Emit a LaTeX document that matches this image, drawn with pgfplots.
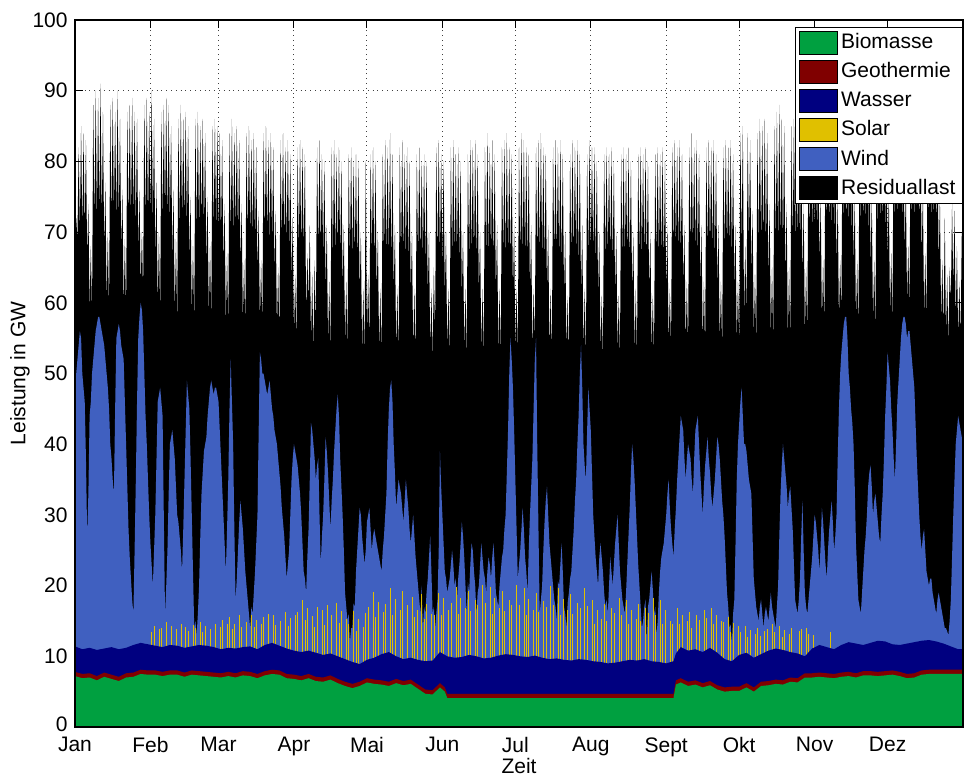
\documentclass[border=0pt]{standalone}
\usepackage{fontspec}
\setmainfont{Liberation Sans}
\usepackage{pgfplots}
\usepackage{pgfplotstable}
\pgfplotsset{compat=1.18}
\definecolor{biocol}{RGB}{0,160,64}
\definecolor{geocol}{RGB}{128,0,0}
\definecolor{watercol}{RGB}{0,0,128}
\definecolor{solarcol}{RGB}{224,192,0}
\definecolor{windcol}{RGB}{64,96,192}

% t = day of year; L = load (top of residual load); W = top of wind; S = top of solar at noon (0 = not shown)
\pgfplotstableread[row sep=\\]{t L W S\\
0 58 49 0\\ 0.5 72 50 0\\ 1 69 52 0\\ 1.5 82 54 0\\ 2 70 56 0\\ 2.5 85 55 0\\ 3 70 50 0\\ 3.5 84 48 0\\ 4 70 46 0\\ 4.5 83 38 0\\ 5 66 27 0\\ 5.5 74 33 0\\ 6 59 44 0\\ 6.5 68 46 0\\
7 58 50 0\\ 7.5 88 52 0\\ 8 71 54 0\\ 8.5 90 56 0\\ 9 71 57 0\\ 9.5 89 58 0\\ 10 72 58 0\\ 10.5 91 57 0\\ 11 71 56 0\\ 11.5 87 55 0\\ 12 67 54 0\\ 12.5 77 52 0\\ 13 60 50 0\\ 13.5 70 48 0\\
14 58 45 0\\ 14.5 88 40 0\\ 15 71 38 0\\ 15.5 89 35 0\\ 16 72 33 0\\ 16.5 87 45 0\\ 17 71 55 0\\ 17.5 90 56 0\\ 18 71 57 0\\ 18.5 86 56 0\\ 19 67 54 0\\ 19.5 76 53 0\\ 20 59 52 0\\ 20.5 69 46 0\\
21 58 40 0\\ 21.5 87 34 0\\ 22 71 28 0\\ 22.5 88 24 0\\ 23 71 21 0\\ 23.5 89 18 0\\ 24 72 16 0\\ 24.5 87 25 0\\ 25 70 35 0\\ 25.5 86 46 0\\ 26 67 55 0\\ 26.5 76 58 0\\ 27 62 60 0\\ 27.5 70 59 0\\
28 61 56 0\\ 28.5 88 50 0\\ 29 71 44 0\\ 29.5 89 40 0\\ 30 71 35 0\\ 30.5 87 30 0\\ 31 72 26 0\\ 31.5 90 23 13.5\\ 32 71 20 0\\ 32.5 86 25 14.3\\ 33 66 30 0\\ 33.5 77 38 0\\ 34 59 46 0\\ 34.5 70 47 13.8\\
35 58 48 0\\ 35.5 87 46 14.0\\ 36 71 44 0\\ 36.5 88 30 0\\ 37 72 16 0\\ 37.5 89 20 14.8\\ 38 71 25 0\\ 38.5 88 33 0\\ 39 71 40 0\\ 39.5 85 41 14.3\\ 40 66 42 0\\ 40.5 76 40 0\\ 41 58 38 0\\ 41.5 69 34 13.8\\
42 57 30 0\\ 42.5 86 29 0\\ 43 70 27 0\\ 43.5 88 25 14.6\\ 44 71 22 0\\ 44.5 86 28 0\\ 45 71 35 0\\ 45.5 87 42 14.1\\ 46 70 49 0\\ 46.5 85 47 13.6\\ 47 66 45 0\\ 47.5 75 38 0\\ 48 58 30 0\\ 48.5 68 22 14.4\\
49 57 14 0\\ 49.5 86 15 14.0\\ 50 70 13 0\\ 50.5 87 16 0\\ 51 70 20 0\\ 51.5 85 27 14.8\\ 52 71 33 0\\ 52.5 86 36 13.5\\ 53 70 39 0\\ 53.5 84 40 14.3\\ 54 65 41 0\\ 54.5 75 44 0\\ 55 58 46 0\\ 55.5 68 48 13.8\\
56 57 49 0\\ 56.5 85 48 0\\ 57 70 47 0\\ 57.5 86 48 14.6\\ 58 70 48 0\\ 58.5 85 47 0\\ 59 69 46 0\\ 59.5 84 42 14.1\\ 60 69 38 0\\ 60.5 83 34 15.2\\ 61 65 30 0\\ 61.5 74 26 0\\ 62 57 22 0\\ 62.5 67 28 14.5\\
63 56 35 0\\ 63.5 84 45 15.5\\ 64 69 52 0\\ 64.5 86 46 13.9\\ 65 69 40 0\\ 65.5 84 28 14.6\\ 66 70 18 0\\ 66.5 85 21 0\\ 67 69 25 0\\ 67.5 83 29 15.9\\ 68 65 32 0\\ 68.5 74 30 14.2\\ 69 57 28 0\\ 69.5 66 25 0\\
70 56 22 0\\ 70.5 84 20 14.8\\ 71 69 18 0\\ 71.5 85 16 0\\ 72 69 14 0\\ 72.5 83 17 15.9\\ 73 69 16 0\\ 73.5 84 19 14.1\\ 74 68 22 0\\ 74.5 82 26 15.2\\ 75 64 30 0\\ 75.5 73 42 0\\ 76 57 53 0\\ 76.5 66 52 14.5\\
77 56 50 0\\ 77.5 84 50 15.5\\ 78 69 49 0\\ 78.5 85 48 0\\ 79 69 47 0\\ 79.5 83 48 16.0\\ 80 68 49 0\\ 80.5 84 47 0\\ 81 68 45 0\\ 81.5 82 44 15.9\\ 82 64 42 0\\ 82.5 73 41 14.4\\ 83 56 40 0\\ 83.5 65 38 0\\
84 55 36 0\\ 84.5 83 34 15.0\\ 85 68 31 0\\ 85.5 84 29 0\\ 86 68 27 0\\ 86.5 82 24 16.2\\ 87 68 21 0\\ 87.5 83 23 14.3\\ 88 67 25 0\\ 88.5 81 30 15.4\\ 89 63 35 0\\ 89.5 72 38 0\\ 90 55 40 0\\ 90.5 64 39 15.8\\
91 54 38 0\\ 91.5 82 37 16.2\\ 92 67 35 0\\ 92.5 83 33 0\\ 93 67 30 0\\ 93.5 82 26 17.9\\ 94 67 22 0\\ 94.5 81 21 15.1\\ 95 58 19 0\\ 95.5 67 24 16.8\\ 96 60 28 0\\ 96.5 71 35 0\\ 97 54 43 0\\ 97.5 64 42 15.7\\
98 53 40 0\\ 98.5 66 38 14.2\\ 99 56 35 0\\ 99.5 82 37 17.0\\ 100 67 38 0\\ 100.5 83 30 0\\ 101 67 23 0\\ 101.5 81 27 16.5\\ 102 66 30 0\\ 102.5 80 35 14.4\\ 103 62 41 0\\ 103.5 71 39 17.2\\ 104 54 36 0\\ 104.5 63 32 0\\
105 53 28 0\\ 105.5 82 32 15.8\\ 106 66 35 0\\ 106.5 83 39 0\\ 107 66 42 0\\ 107.5 81 45 17.5\\ 108 67 47 0\\ 108.5 82 44 14.7\\ 109 66 38 0\\ 109.5 80 34 16.4\\ 110 62 30 0\\ 110.5 71 25 0\\ 111 54 19 0\\ 111.5 63 17 15.3\\
112 53 15 0\\ 112.5 81 16 14.5\\ 113 66 12 0\\ 113.5 82 14 0\\ 114 66 14 0\\ 114.5 80 17.5 16.4\\ 115 66 17 0\\ 115.5 81 22 13.6\\ 116 65 25 0\\ 116.5 80 28 15.3\\ 117 61 31 0\\ 117.5 70 30 0\\ 118 53 27 0\\ 118.5 62 25 14.2\\
119 52 23 0\\ 119.5 80 25 16.1\\ 120 55 29 0\\ 120.5 64 30 17.0\\ 121 54 31 0\\ 121.5 81 28 0\\ 122 66 25 0\\ 122.5 82 27 19.1\\ 123 65 28 0\\ 123.5 80 27 15.6\\ 124 61 26 0\\ 124.5 70 25 17.7\\ 125 53 24 0\\ 125.5 62 23 0\\
126 52 22 0\\ 126.5 81 25 16.3\\ 127 66 27 0\\ 127.5 83 30 17.4\\ 128 66 33 0\\ 128.5 82 40 0\\ 129 66 45 0\\ 129.5 84 48 19.6\\ 130 65 49 0\\ 130.5 81 46 15.9\\ 131 61 40 0\\ 131.5 71 36 18.1\\ 132 53 31 0\\ 132.5 62 33 0\\
133 52 35 0\\ 133.5 82 34 16.6\\ 134 66 33 0\\ 134.5 83 31 19.3\\ 135 66 29 0\\ 135.5 81 32 0\\ 136 66 35 0\\ 136.5 82 33 17.3\\ 137 65 31 0\\ 137.5 80 28 0\\ 138 61 26 0\\ 138.5 70 28 18.4\\ 139 53 30 0\\ 139.5 62 27 15.5\\
140 52 24 0\\ 140.5 81 22 16.6\\ 141 66 20 0\\ 141.5 82 18 0\\ 142 66 16 0\\ 142.5 80 20 18.8\\ 143 66 14 0\\ 143.5 81 17 15.3\\ 144 65 16 0\\ 144.5 80 19 17.4\\ 145 61 21 0\\ 145.5 70 24 0\\ 146 53 27 0\\ 146.5 62 22 16.0\\
147 52 16 0\\ 147.5 65 17 15.9\\ 148 55 14 0\\ 148.5 82 16 0\\ 149 66 18 0\\ 149.5 83 25 19.0\\ 150 66 39 0\\ 150.5 81 34 15.8\\ 151 65 30 0\\ 151.5 80 26 18.2\\ 152 61 22 0\\ 152.5 70 21 0\\ 153 53 19 0\\ 153.5 62 20 16.6\\
154 52 21 0\\ 154.5 82 23 17.5\\ 155 66 25 0\\ 155.5 83 23 0\\ 156 66 20 0\\ 156.5 81 21 19.8\\ 157 66 18 0\\ 157.5 82 21 16.0\\ 158 65 23 0\\ 158.5 80 26 18.3\\ 159 61 29 0\\ 159.5 70 27 0\\ 160 53 24 0\\ 160.5 62 20 16.8\\
161 52 16 0\\ 161.5 81 20.5 19.3\\ 162 66 19 0\\ 162.5 83 23 16.4\\ 163 66 26 0\\ 163.5 82 25 0\\ 164 66 22 0\\ 164.5 83 20 18.0\\ 165 65 16 0\\ 165.5 81 19 17.2\\ 166 61 20 0\\ 166.5 70 23 0\\ 167 53 26 0\\ 167.5 62 24 20.1\\
168 52 22 0\\ 168.5 82 21 17.5\\ 169 66 19 0\\ 169.5 84 22 0\\ 170 66 24 0\\ 170.5 82 23 19.8\\ 171 66 21 0\\ 171.5 83 24 16.0\\ 172 65 26 0\\ 172.5 81 23 18.3\\ 173 61 19 0\\ 173.5 71 18 0\\ 174 53 17 0\\ 174.5 62 20 16.8\\
175 52 22 0\\ 175.5 82 24 19.3\\ 176 66 25 0\\ 176.5 83 28 16.4\\ 177 66 30 0\\ 177.5 84 36 0\\ 178 66 42 0\\ 178.5 82 50 18.0\\ 179 65 55 0\\ 179.5 81 52 17.2\\ 180 61 48 0\\ 180.5 71 42 0\\ 181 53 35 0\\ 181.5 62 28 20.1\\
182 52 21 0\\ 182.5 82 23 17.3\\ 183 66 25 0\\ 183.5 84 28 0\\ 184 66 31 0\\ 184.5 83 28 19.6\\ 185 66 24 0\\ 185.5 82 22 15.8\\ 186 65 19 0\\ 186.5 81 25 18.1\\ 187 61 30 0\\ 187.5 71 34 0\\ 188 53 38 0\\ 188.5 62 45 16.6\\
189 54 52 0\\ 189.5 82 55 19.0\\ 190 66 40 0\\ 190.5 83 28 16.2\\ 191 66 16 0\\ 191.5 84 18 0\\ 192 66 20 0\\ 192.5 82 25 17.8\\ 193 65 29 0\\ 193.5 81 32 17.0\\ 194 61 34 0\\ 194.5 71 30 0\\ 195 53 26 0\\ 195.5 62 24 19.9\\
196 52 22 0\\ 196.5 82 20 17.3\\ 197 66 18 0\\ 197.5 83 17 0\\ 198 66 15 0\\ 198.5 82 20.6 19.6\\ 199 66 20 0\\ 199.5 83 23 15.8\\ 200 65 26 0\\ 200.5 81 22 18.1\\ 201 61 17 0\\ 201.5 70 16 0\\ 202 53 14 0\\ 202.5 61 17.6 16.6\\
203 52 19 0\\ 203.5 81 21 18.8\\ 204 66 22 0\\ 204.5 83 25 16.0\\ 205 66 28 0\\ 205.5 82 32 0\\ 206 66 35 0\\ 206.5 83 40 17.6\\ 207 65 44 0\\ 207.5 81 50 16.8\\ 208 61 54 0\\ 208.5 71 48 0\\ 209 53 40 0\\ 209.5 62 37 19.7\\
210 52 35 0\\ 210.5 81 42 17.1\\ 211 66 48 0\\ 211.5 83 45 0\\ 212 66 42 0\\ 212.5 82 36 17.9\\ 213 66 30 0\\ 213.5 82 27 14.6\\ 214 65 24 0\\ 214.5 80 22 16.6\\ 215 61 20 0\\ 215.5 70 24 0\\ 216 53 26 0\\ 216.5 61 24 15.3\\
217 52 22 0\\ 217.5 81 19 17.4\\ 218 66 17 0\\ 218.5 82 18 15.0\\ 219 66 16 0\\ 219.5 81 20 0\\ 220 66 24 0\\ 220.5 82 22 16.8\\ 221 65 20 0\\ 221.5 80 23 16.1\\ 222 61 26 0\\ 222.5 70 28 0\\ 223 53 30 0\\ 223.5 61 26 18.2\\
224 52 22 0\\ 224.5 81 20 15.9\\ 225 66 18 0\\ 225.5 82 17 0\\ 226 66 16 0\\ 226.5 81 19 17.9\\ 227 66 23 0\\ 227.5 82 27 14.6\\ 228 65 31 0\\ 228.5 80 36 16.6\\ 229 61 40 0\\ 229.5 70 38 0\\ 230 53 35 0\\ 230.5 62 31 15.3\\
231 52 27 0\\ 231.5 81 23 17.4\\ 232 66 20 0\\ 232.5 82 17 15.0\\ 233 66 14 0\\ 233.5 81 15 0\\ 234 66 17 0\\ 234.5 82 18 16.8\\ 235 65 12 0\\ 235.5 80 17 16.1\\ 236 61 18 0\\ 236.5 70 20 0\\ 237 53 22 0\\ 237.5 61 19.5 18.2\\
238 52 16 0\\ 238.5 81 17 15.9\\ 239 66 13 0\\ 239.5 82 15 0\\ 240 66 19 0\\ 240.5 81 22 17.9\\ 241 66 24 0\\ 241.5 82 25 14.6\\ 242 65 26 0\\ 242.5 80 28 16.6\\ 243 61 30 0\\ 243.5 71 33 0\\ 244 54 35 0\\ 244.5 62 31 15.0\\
245 53 28 0\\ 245.5 82 26 14.6\\ 246 67 24 0\\ 246.5 83 28 0\\ 247 67 31 0\\ 247.5 82 35 16.8\\ 248 67 38 0\\ 248.5 83 41 14.5\\ 249 66 44 0\\ 249.5 81 43 15.9\\ 250 62 42 0\\ 250.5 71 38 0\\ 251 54 35 0\\ 251.5 63 38 15.0\\
252 53 40 0\\ 252.5 82 39 16.3\\ 253 67 38 0\\ 253.5 84 35 14.0\\ 254 67 33 0\\ 254.5 82 38 0\\ 255 67 42 0\\ 255.5 83 43 15.8\\ 256 66 44 0\\ 256.5 81 40 15.1\\ 257 62 36 0\\ 257.5 71 33 0\\ 258 54 30 0\\ 258.5 63 34 16.5\\
259 53 37 0\\ 259.5 82 39 15.4\\ 260 67 41 0\\ 260.5 83 38 0\\ 261 67 36 0\\ 261.5 82 33 16.8\\ 262 67 31 0\\ 262.5 83 33 14.5\\ 263 66 35 0\\ 263.5 81 38 15.9\\ 264 62 41 0\\ 264.5 71 40 0\\ 265 54 38 0\\ 265.5 63 35 15.0\\
266 53 32 0\\ 266.5 82 30 14.9\\ 267 67 27 0\\ 267.5 83 23 0\\ 268 67 19 0\\ 268.5 82 17 15.6\\ 269 67 14 0\\ 269.5 83 14.5 13.4\\ 270 66 12 0\\ 270.5 81 16 14.7\\ 271 62 18 0\\ 271.5 71 26 0\\ 272 54 35 0\\ 272.5 63 40 14.3\\
273 54 43 0\\ 273.5 84 46 13.4\\ 274 68 48 0\\ 274.5 85 44 0\\ 275 58 40 0\\ 275.5 68 40 14.3\\ 276 58 39 0\\ 276.5 84 37 12.8\\ 277 68 35 0\\ 277.5 83 34 13.7\\ 278 64 33 0\\ 278.5 73 27 0\\ 279 55 21 0\\ 279.5 64 19 13.1\\
280 54 17 0\\ 280.5 84 16 14.0\\ 281 68 15 0\\ 281.5 86 17 12.9\\ 282 68 18 0\\ 282.5 85 16 0\\ 283 68 14 0\\ 283.5 86 16 13.6\\ 284 67 17 0\\ 284.5 84 16 13.9\\ 285 63 15 0\\ 285.5 74 17 0\\ 286 55 19 0\\ 286.5 65 17 14.5\\
287 54 16 0\\ 287.5 85 15 13.4\\ 288 68 14 0\\ 288.5 87 17 0\\ 289 68 20 0\\ 289.5 88 27 14.3\\ 290 68 33 0\\ 290.5 86 37 12.8\\ 291 67 40 0\\ 291.5 85 38 13.7\\ 292 63 36 0\\ 292.5 74 34 0\\ 293 55 31 0\\ 293.5 65 33 13.1\\
294 54 34 0\\ 294.5 85 31 14.0\\ 295 68 28 0\\ 295.5 86 23 0\\ 296 68 18 0\\ 296.5 85 17 0\\ 297 68 16 0\\ 297.5 87 18 13.6\\ 298 67 21 0\\ 298.5 84 27 13.9\\ 299 63 32 0\\ 299.5 74 25 0\\ 300 55 19 0\\ 300.5 65 17 14.0\\
301 55 16 0\\ 301.5 85 18 13.2\\ 302 69 20 0\\ 302.5 86 22 0\\ 303 69 24 0\\ 303.5 85 27 13.0\\ 304 70 30 0\\ 304.5 86 29 0\\ 305 69 27 0\\ 305.5 85 25 0\\ 306 65 22 0\\ 306.5 75 26 0\\ 307 57 31 0\\ 307.5 66 29 0\\
308 56 26 0\\ 308.5 86 23 0\\ 309 70 21 0\\ 309.5 87 25 0\\ 310 70 28 0\\ 310.5 85 30 13.5\\ 311 70 32 0\\ 311.5 86 29 0\\ 312 69 25 0\\ 312.5 84 27 0\\ 313 65 30 0\\ 313.5 75 38 0\\ 314 57 45 0\\ 314.5 66 50 0\\
315 58 53 0\\ 315.5 86 55 0\\ 316 70 57 0\\ 316.5 87 58 0\\ 317 70 58 0\\ 317.5 86 55 0\\ 318 70 50 0\\ 318.5 87 48 0\\ 319 69 45 0\\ 319.5 85 43 0\\ 320 65 40 0\\ 320.5 75 34 0\\ 321 57 26 0\\ 321.5 66 22 0\\
322 56 18 0\\ 322.5 86 17 0\\ 323 70 16 0\\ 323.5 87 19 0\\ 324 70 22 0\\ 324.5 86 25 0\\ 325 70 27 0\\ 325.5 87 30 0\\ 326 69 34 0\\ 326.5 85 36 0\\ 327 65 37 0\\ 327.5 75 34 0\\ 328 57 30 0\\ 328.5 66 32 0\\
329 56 33 0\\ 329.5 86 31 0\\ 330 70 29 0\\ 330.5 87 27 0\\ 331 70 26 0\\ 331.5 86 30 0\\ 332 70 33 0\\ 332.5 87 38 0\\ 333 69 44 0\\ 333.5 86 48 0\\ 334 66 53 0\\ 334.5 76 51 0\\ 335 58 49 0\\ 335.5 67 45 0\\
336 57 42 0\\ 336.5 87 38 0\\ 337 71 35 0\\ 337.5 88 40 0\\ 338 71 46 0\\ 338.5 87 49 0\\ 339 71 52 0\\ 339.5 88 55 0\\ 340 70 57 0\\ 340.5 86 58 0\\ 341 67 58 0\\ 341.5 77 57 0\\ 342 60 55 0\\ 342.5 68 56 0\\
343 59 56 0\\ 343.5 87 54 0\\ 344 71 52 0\\ 344.5 88 50 0\\ 345 71 48 0\\ 345.5 87 43 0\\ 346 71 38 0\\ 346.5 88 34 0\\ 347 70 30 0\\ 347.5 86 27 0\\ 348 66 25 0\\ 348.5 76 27 0\\ 349 58 28 0\\ 349.5 67 25 0\\
350 57 22 0\\ 350.5 86 21 0\\ 351 71 20 0\\ 351.5 87 21 0\\ 352 71 21 0\\ 352.5 86 19 0\\ 353 71 18 0\\ 353.5 86 17 0\\ 354 70 16 0\\ 354.5 84 18 0\\ 355 65 19 0\\ 355.5 75 18 0\\ 356 57 17 0\\ 356.5 66 16 0\\
357 56 15 0\\ 357.5 72 14 0\\ 358 55 14 0\\ 358.5 64 13.5 0\\ 359 54 13 0\\ 359.5 65 15 0\\ 360 60 18 0\\ 360.5 74 24 0\\ 361 62 30 0\\ 361.5 73 35 0\\ 362 57 40 0\\ 362.5 68 42 0\\ 363 55 44 0\\ 363.5 63 43 0\\
364 55 42 0\\ 364.5 70 41 0\\ 365 57 40 0\\
}\hourly

% t = day; H = top of water; G = top of geothermal; B = top of biomass
\pgfplotstableread{
t H G B
0 11.4 7.8 7.2
3 11.0 7.5 6.9
6 11.2 7.6 7.0
9 10.9 7.2 6.6
12 11.1 7.7 7.1
15 11.3 7.4 6.8
18 11.0 7.1 6.5
21 11.2 7.6 7.0
24 11.6 7.7 7.1
27 11.9 8.1 7.5
30 11.7 8.0 7.4
33 11.5 8.0 7.4
36 11.3 7.8 7.2
39 11.6 8.0 7.4
42 11.5 8.0 7.4
45 11.2 7.7 7.1
48 11.4 8.0 7.4
51 11.6 7.9 7.3
54 11.5 7.8 7.2
57 11.3 7.7 7.1
60 11.0 7.6 7.0
63 11.2 7.8 7.2
66 11.1 7.6 7.0
69 11.3 7.9 7.3
72 11.4 7.8 7.2
75 11.0 7.5 6.9
78 11.6 7.9 7.3
81 11.9 8.1 7.5
84 11.5 8.0 7.4
87 11.1 7.5 6.9
90 10.8 7.4 6.8
93 10.6 7.2 6.6
96 10.8 7.5 6.9
99 10.5 7.1 6.5
102 10.2 7.0 6.4
105 10.4 7.3 6.7
108 10.0 6.8 6.2
111 9.6 6.4 5.8
114 9.2 6.1 5.5
117 8.9 6.4 5.8
120 9.5 6.9 6.3
123 9.8 6.7 6.1
126 10.3 6.6 6.0
129 10.6 6.4 5.8
132 10.0 6.8 6.2
135 9.6 6.5 5.9
138 9.8 6.7 6.1
141 9.5 6.0 5.4
144 9.3 5.3 4.7
147 9.4 5.2 4.6
150 10.6 6.2 5.6
152 10.2 5.6 5.0
153 10.0 4.7 4.1
156 9.8 4.7 4.1
159 9.9 4.7 4.1
162 10.2 4.7 4.1
165 10.0 4.7 4.1
168 9.7 4.7 4.1
171 9.8 4.7 4.1
174 10.1 4.7 4.1
177 10.3 4.7 4.1
180 10.2 4.7 4.1
183 10.0 4.7 4.1
186 9.9 4.7 4.1
189 10.1 4.7 4.1
192 9.8 4.7 4.1
195 9.6 4.7 4.1
198 9.7 4.7 4.1
201 9.5 4.7 4.1
204 9.4 4.7 4.1
207 9.6 4.7 4.1
210 9.5 4.7 4.1
213 9.3 4.7 4.1
216 9.2 4.7 4.1
219 9.0 4.7 4.1
222 9.1 4.7 4.1
225 9.3 4.7 4.1
228 9.5 4.7 4.1
231 9.4 4.7 4.1
234 9.6 4.7 4.1
237 9.3 4.7 4.1
240 9.2 4.7 4.1
243 9.0 4.7 4.1
246 9.3 4.7 4.1
247 10.4 6.6 6.0
249 11.3 6.9 6.3
252 10.8 6.4 5.8
255 11.0 6.6 6.0
258 10.6 6.2 5.6
261 11.2 6.5 5.9
264 10.5 5.9 5.3
267 9.6 5.6 5.0
270 9.3 5.7 5.1
273 10.2 5.7 5.1
276 10.5 6.2 5.6
279 9.8 5.6 5.0
282 10.3 6.4 5.8
285 10.8 6.5 5.9
288 11.1 6.7 6.1
291 10.9 6.6 6.0
294 10.6 7.0 6.4
297 10.4 6.9 6.3
300 10.0 7.6 7.0
303 11.1 7.6 7.0
306 11.6 7.7 7.1
309 11.3 7.6 7.0
312 11.0 7.5 6.9
315 11.6 7.7 7.1
318 12.0 7.8 7.2
321 11.8 7.6 7.0
324 11.6 7.9 7.3
327 11.9 7.9 7.3
330 12.2 7.8 7.2
333 12.1 7.9 7.3
336 11.7 8.0 7.4
339 11.6 7.8 7.2
342 11.8 7.5 6.9
345 12.0 7.6 7.0
348 12.2 8.0 7.4
351 12.3 8.1 7.5
354 12.1 8.1 7.5
357 11.8 8.1 7.5
360 11.4 8.1 7.5
363 11.0 8.1 7.5
365 11.0 8.1 7.5
}\base

\begin{document}
\fontsize{10.5}{12.6}\selectfont
\begin{tikzpicture}
\begin{axis}[
  scale only axis, width=444pt, height=353.5pt,
  xmin=0, xmax=365, ymin=0, ymax=100,
  xtick={0,31,59,90,120,151,181,212,243,273,304,334},
  xticklabels={Jan,Feb,Mar,Apr,Mai,Jun,Jul,Aug,Sept,Okt,Nov,Dez},
  xticklabel style={inner ysep=0pt, yshift=-5pt},
  yticklabel style={inner ysep=0pt},
  ytick={0,10,...,100},
  yticklabel={\ifdim\tick pt=0pt \raisebox{3pt}{0}\else\pgfmathprintnumber{\tick}\fi},
  tick align=inside, major tick length=4pt,
  tick style={black, line width=0.5pt},
  grid=major, grid style={black!75, dotted, line width=0.5pt},
  /pgf/number format/assume math mode=true,
  xlabel={Zeit}, ylabel={Leistung in GW},
  xlabel style={at={(axis description cs:0.5,-0.0552)}, anchor=center},
  ylabel style={at={(axis description cs:-0.062,0.5)}, anchor=center},
  axis line style={black, line width=0.6pt},
  legend style={at={(rel axis cs:1,0.99)}, anchor=north east, draw=black,
    line width=0.5pt, fill=white, inner xsep=2pt, inner ysep=1.5pt,
    row sep=2.4pt, nodes={inner sep=1.5pt}},
  legend cell align=left,
  legend image code/.code={\fill[#1] (0pt,-5.75pt) rectangle (19pt,5.75pt);},
]
\addlegendimage{fill=biocol}\addlegendentry{Biomasse}
\addlegendimage{fill=geocol}\addlegendentry{Geothermie}
\addlegendimage{fill=watercol}\addlegendentry{Wasser}
\addlegendimage{fill=solarcol}\addlegendentry{Solar}
\addlegendimage{fill=windcol}\addlegendentry{Wind}
\addlegendimage{fill=black}\addlegendentry{Residuallast}

\addplot[fill=black, draw=none, forget plot] table[x=t, y=L] {\hourly} \closedcycle;
\addplot[fill=windcol, draw=none, forget plot] table[x=t, y=W] {\hourly} \closedcycle;
\addplot[ycomb, draw=solarcol, line width=0.25pt, forget plot] table[x=t, y=S] {\hourly};
\addplot[fill=watercol, draw=none, forget plot] table[x=t, y=H] {\base} \closedcycle;
\addplot[fill=geocol, draw=none, forget plot] table[x=t, y=G] {\base} \closedcycle;
\addplot[fill=biocol, draw=none, forget plot] table[x=t, y=B] {\base} \closedcycle;
\end{axis}
\draw[black, line width=0.6pt] (current axis.south west) rectangle (current axis.north east);
\pgfresetboundingbox
\path[use as bounding box] ([xshift=-37.5pt,yshift=-25.5pt]current axis.south west) rectangle ([xshift=0.5pt,yshift=10pt]current axis.north east);
\end{tikzpicture}
\end{document}
